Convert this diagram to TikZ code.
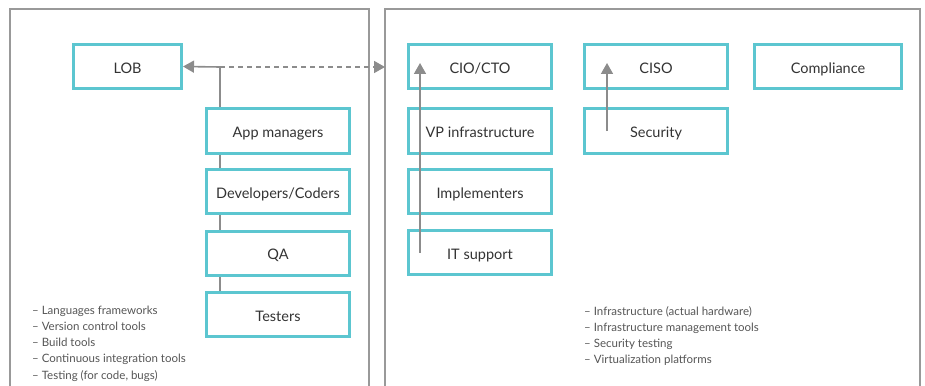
\documentclass[tikz,border=0pt]{standalone}
\usepackage{fontspec}
\setmainfont{Lato}
\usetikzlibrary{arrows.meta}
\definecolor{teal1}{HTML}{5CC6D0}
\definecolor{lgray}{HTML}{8C8C8C}
\definecolor{pgray}{HTML}{999999}
\definecolor{txt}{HTML}{333333}
\definecolor{itemtxt}{HTML}{555555}
\begin{document}
\begin{tikzpicture}[x=1pt,y=-1pt,
  box/.style={draw=teal1,line width=3pt,minimum width=143pt,minimum height=44pt,inner sep=0pt,
    text height=13.6pt,text depth=0pt,
    font=\fontsize{14.5}{17}\selectfont,text=txt},
  conn/.style={draw=lgray,line width=1.6pt},
  tip/.style={-{Triangle[length=11pt,width=12pt]}},
  panel/.style={draw=pgray,line width=1.5pt},
  item/.style={anchor=base west,inner sep=0pt,font=\fontsize{11.5}{13}\selectfont,text=itemtxt}]
\useasboundingbox (0,0) rectangle (925,385);
\begin{scope}
\clip (0,0) rectangle (925,385);
\draw[panel] (10,400) -- (10,9) -- (369,9) -- (369,400);
\draw[panel] (385,400) -- (385,9) -- (920,9) -- (920,400);
\end{scope}

% left column
\node[box,minimum width=108pt] (lob) at (127.5,66.5) {LOB};
\node[box] (app) at (278,131) {App managers};
\node[box] (dev) at (278,191.5) {Developers/Coders};
\node[box] (qa) at (278,253) {QA};
\node[box] (test) at (278,314.5) {Testers};

\coordinate (junc) at (220,67);
\coordinate (rp) at (385,67);

% right column
\node[box] (cio) at (480,66.5) {CIO/CTO};
\node[box] (vp) at (480,131) {VP infrastructure};
\node[box] (impl) at (480,191.5) {Implementers};
\node[box] (its) at (480,252.5) {IT support};
\node[box] (ciso) at (656,66.5) {CISO};
\node[box] (sec) at (656,131) {Security};
\node[box,minimum width=147pt] (comp) at (828,66.5) {Compliance};

% connectors
\draw[conn] (test.north -| junc) -- (qa.south -| junc);
\draw[conn] (qa.north -| junc) -- (dev.south -| junc);
\draw[conn] (dev.north -| junc) -- (app.south -| junc);
\draw[conn] (app.north -| junc) -- (junc);
\draw[conn,tip] (junc) -- (lob.east);
\draw[conn,tip,dash pattern=on 5pt off 4pt] (junc) -- (rp);
\coordinate (itsA) at ([xshift=13pt]its.west);
\coordinate (cioA) at ([xshift=13pt,yshift=3.5pt]cio.west);
\draw[conn,tip] (itsA) -- (cioA);
\coordinate (secA) at ([xshift=24pt]sec.west);
\coordinate (cisoA) at ([xshift=24pt,yshift=3.5pt]ciso.west);
\draw[conn,tip] (secA) -- (cisoA);

% lists
\node[item] (l1) at (32,314) {– Languages frameworks};
\node[item] (l2) at (32,330.3) {– Version control tools};
\node[item] (l3) at (32,346.6) {– Build tools};
\node[item] (l4) at (32,362.9) {– Continuous integration tools};
\node[item] (l5) at (32,379.2) {– Testing (for code, bugs)};

\node[item] (r1) at (584,315) {– Infrastructure (actual hardware)};
\node[item] (r2) at (584,331.3) {– Infrastructure management tools};
\node[item] (r3) at (584,347.6) {– Security testing};
\node[item] (r4) at (584,363.9) {– Virtualization platforms};
\end{tikzpicture}
\end{document}
